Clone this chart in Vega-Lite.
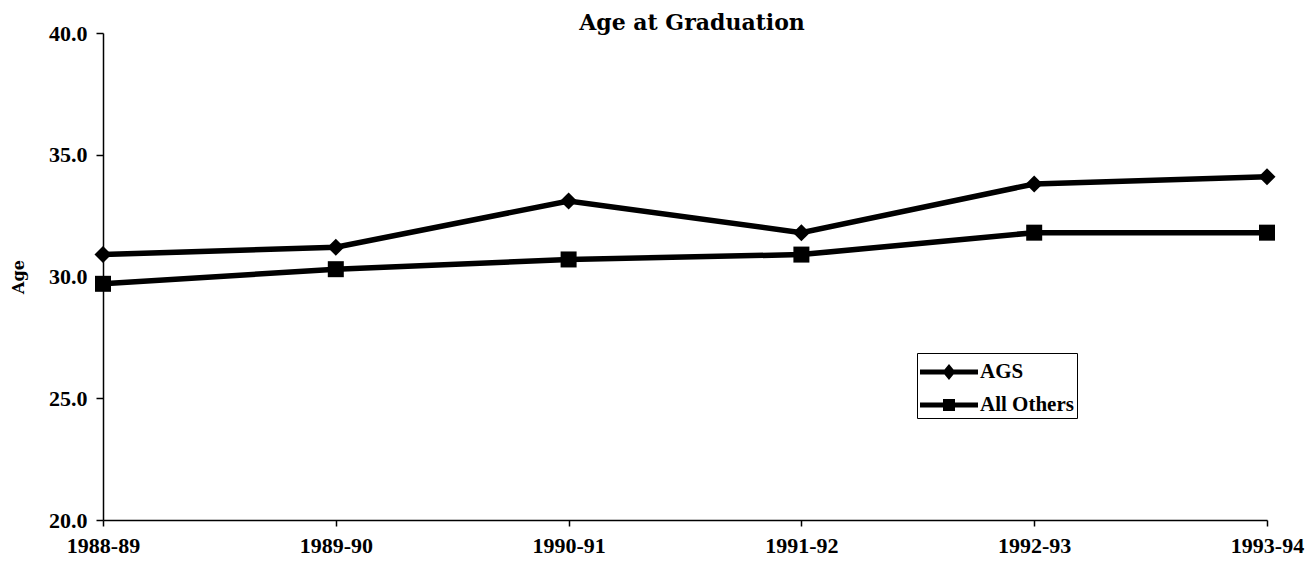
{
  "$schema": "https://vega.github.io/schema/vega-lite/v6.json",
  "autosize": "none",
  "width": 1164,
  "height": 487,
  "padding": {"left": 103, "top": 33, "right": 43, "bottom": 44},
  "background": "white",
  "title": {"text": "Age at Graduation", "font": "DejaVu Serif", "fontWeight": "bold", "fontSize": 22, "color": "black", "offset": 0, "dx": 7, "dy": 13, "anchor": "middle"},
  "data": {"values": [
    {"year": "1988-89", "series": "AGS", "age": 30.9},
    {"year": "1989-90", "series": "AGS", "age": 31.2},
    {"year": "1990-91", "series": "AGS", "age": 33.1},
    {"year": "1991-92", "series": "AGS", "age": 31.8},
    {"year": "1992-93", "series": "AGS", "age": 33.8},
    {"year": "1993-94", "series": "AGS", "age": 34.1},
    {"year": "1988-89", "series": "All Others", "age": 29.7},
    {"year": "1989-90", "series": "All Others", "age": 30.3},
    {"year": "1990-91", "series": "All Others", "age": 30.7},
    {"year": "1991-92", "series": "All Others", "age": 30.9},
    {"year": "1992-93", "series": "All Others", "age": 31.8},
    {"year": "1993-94", "series": "All Others", "age": 31.8}
  ]},
  "encoding": {
    "x": {"field": "year", "type": "ordinal", "scale": {"type": "point", "padding": 0},
      "axis": {"title": null, "labelAngle": 0, "grid": false, "domainColor": "black", "domainWidth": 1.5, "tickColor": "black", "tickWidth": 1.5, "tickSize": 6, "labelFont": "Liberation Serif", "labelFontWeight": "bold", "labelFontSize": 22, "labelColor": "black", "labelPadding": 9}},
    "y": {"field": "age", "type": "quantitative", "scale": {"domain": [20, 40], "nice": false, "zero": false},
      "axis": {"title": "Age", "values": [20, 25, 30, 35, 40], "format": ".1f", "grid": false, "domainColor": "black", "domainWidth": 1.5, "tickColor": "black", "tickWidth": 1.5, "tickSize": 7, "labelFont": "Liberation Serif", "labelFontWeight": "bold", "labelFontSize": 22, "labelColor": "black", "labelPadding": 9, "titleFont": "DejaVu Serif", "titleFontWeight": "bold", "titleFontSize": 16, "titleColor": "black", "titlePadding": 22}}
  },
  "layer": [
    {
      "mark": {"type": "line", "color": "black", "strokeWidth": 5.5},
      "encoding": {"detail": {"field": "series", "type": "nominal"}}
    },
    {
      "mark": {"type": "point", "filled": true, "color": "black", "opacity": 1},
      "encoding": {
        "shape": {"condition": {"test": "datum.series === 'AGS'", "value": "diamond"}, "value": "square"},
        "size": {"condition": {"test": "datum.series === 'AGS'", "value": 290}, "value": 256}
      }
    },
    {
      "transform": [{"filter": "datum.age < 0"}],
      "mark": {"type": "point", "filled": true, "color": "black", "opacity": 1},
      "encoding": {
        "shape": {"field": "series", "type": "nominal",
          "scale": {"domain": ["AGS", "All Others"], "range": ["M-1,-0.156L2.625,-0.156L2.625,0.156L-1,0.156Z M0.8125,-0.5L1.219,0L0.8125,0.5L0.406,0Z", "M-1,-0.156L2.625,-0.156L2.625,0.156L-1,0.156Z M0.4375,-0.375L1.1875,-0.375L1.1875,0.375L0.4375,0.375Z"]},
          "legend": {"title": null, "orient": "none", "legendX": 814, "legendY": 320, "strokeColor": "black", "padding": 3, "rowPadding": 7, "symbolSize": 1024, "symbolFillColor": "black", "symbolStrokeWidth": 0, "labelFont": "Liberation Serif", "labelFontWeight": "bold", "labelFontSize": 21, "labelColor": "black", "labelOffset": 28,
            "encode": {"legend": {"update": {"strokeWidth": {"value": 1.5}}}}}}
      }
    }
  ],
  "config": {"view": {"stroke": null}}
}
